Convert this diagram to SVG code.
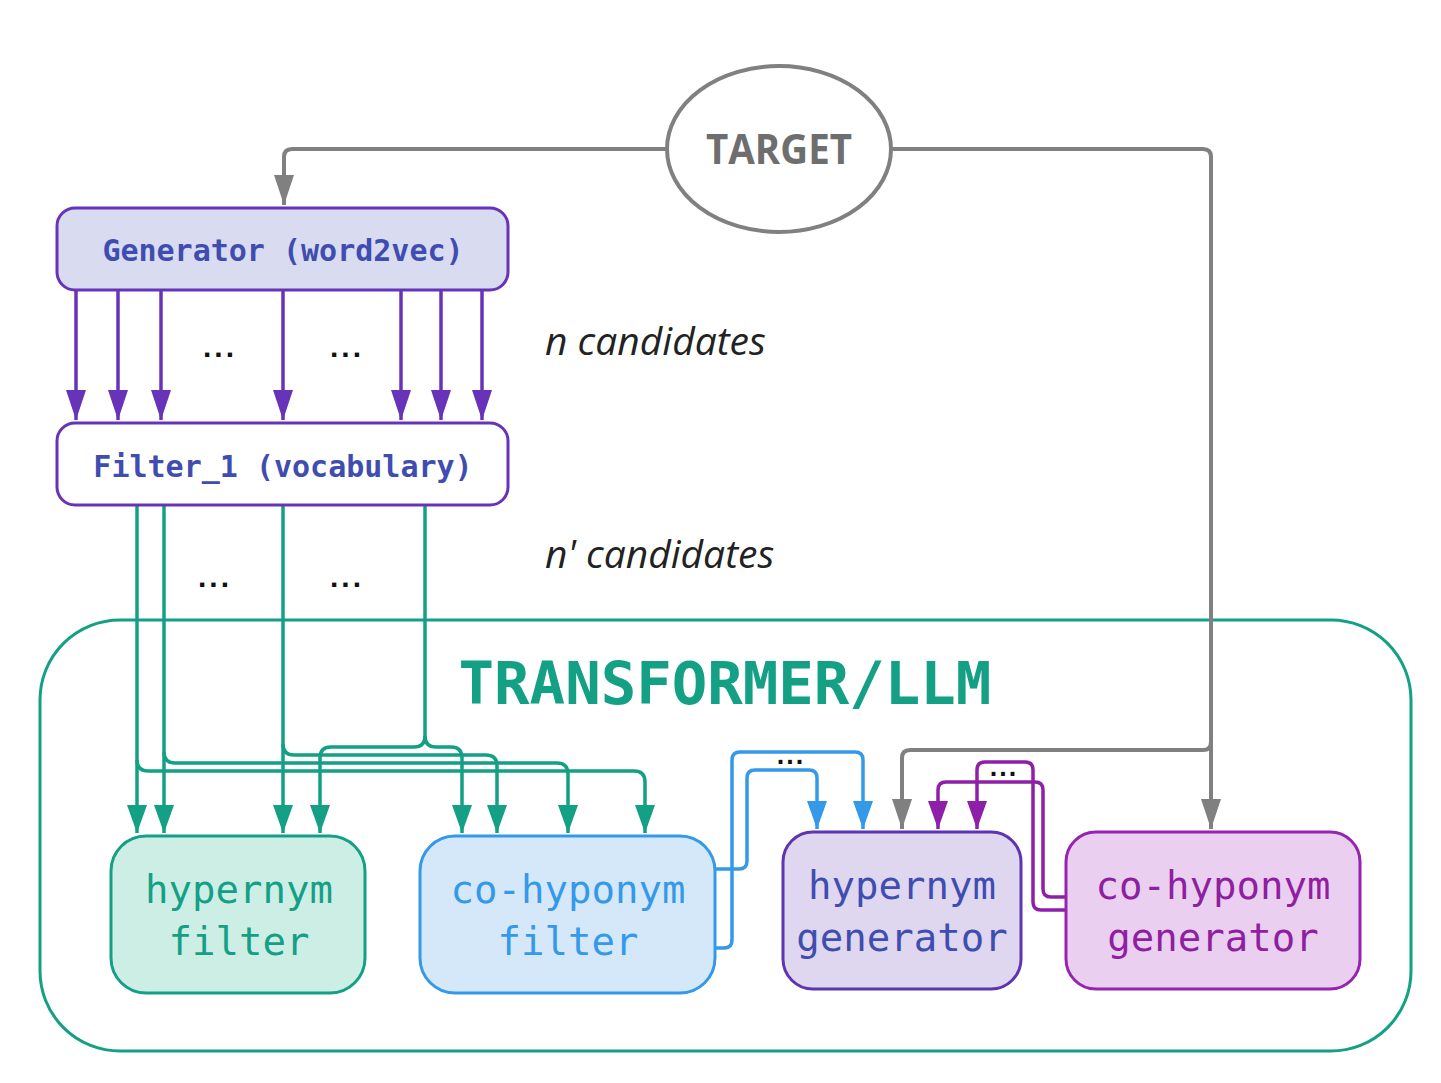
<svg xmlns="http://www.w3.org/2000/svg" width="1441" height="1083" viewBox="0 0 1441 1083">
<style>
.mono{font-family:"DejaVu Sans Mono","Liberation Mono",monospace}
.lbl{font-size:39px;text-anchor:middle}
.hdr{font-size:30px;font-weight:bold;text-anchor:middle;fill:#3f4db0}
.dots{font-family:"Liberation Sans",sans-serif;font-size:30px;font-weight:bold;letter-spacing:3px;fill:#111;text-anchor:middle}
.sdots{font-family:"Liberation Sans",sans-serif;font-size:27px;font-weight:bold;letter-spacing:2px;fill:#111;text-anchor:middle}
.cand{font-family:"Open Sans",sans-serif;font-style:italic;font-size:39px;fill:#222}
.ln{fill:none;stroke-width:3.5}
.g{stroke:#13a085}
.b{stroke:#3499e8}
.p{stroke:#6633b9}
.m{stroke:#8e1fa8}
.gr{stroke:#808080;stroke-width:4}
</style>
<defs>
<marker id="ag" markerUnits="userSpaceOnUse" markerWidth="28" markerHeight="20" refX="28" refY="10" orient="auto"><path d="M0,0 L28,10 L0,20 Z" fill="#13a085"/></marker>
<marker id="ab" markerUnits="userSpaceOnUse" markerWidth="28" markerHeight="20" refX="28" refY="10" orient="auto"><path d="M0,0 L28,10 L0,20 Z" fill="#3499e8"/></marker>
<marker id="ap" markerUnits="userSpaceOnUse" markerWidth="30" markerHeight="20" refX="30" refY="10" orient="auto"><path d="M0,0 L30,10 L0,20 Z" fill="#6633b9"/></marker>
<marker id="am" markerUnits="userSpaceOnUse" markerWidth="28" markerHeight="20" refX="28" refY="10" orient="auto"><path d="M0,0 L28,10 L0,20 Z" fill="#8e1fa8"/></marker>
<marker id="agr" markerUnits="userSpaceOnUse" markerWidth="30" markerHeight="20" refX="30" refY="10" orient="auto"><path d="M0,0 L30,10 L0,20 Z" fill="#808080"/></marker>
</defs>
<rect width="1441" height="1083" fill="#ffffff"/>

<g id="container">
<rect x="40" y="620" width="1371" height="431" rx="80" fill="none" stroke="#13a085" stroke-width="3"/>
<text class="mono" x="725" y="704" font-size="59" font-weight="bold" fill="#13a085" text-anchor="middle">TRANSFORMER/LLM</text>
</g>

<g id="connectors">
<path class="ln gr" d="M667,149 H292 Q284,149 284,157 V205" marker-end="url(#agr)"/>
<path class="ln gr" d="M891,149 H1203 Q1211,149 1211,157 V829" marker-end="url(#agr)"/>
<path class="ln gr" d="M1211,742 Q1211,750 1203,750 H910 Q902,750 902,758 V829" marker-end="url(#agr)"/>
<path class="ln p" d="M76,290 V420" marker-end="url(#ap)"/>
<path class="ln p" d="M118,290 V420" marker-end="url(#ap)"/>
<path class="ln p" d="M161,290 V420" marker-end="url(#ap)"/>
<path class="ln p" d="M283,290 V420" marker-end="url(#ap)"/>
<path class="ln p" d="M401,290 V420" marker-end="url(#ap)"/>
<path class="ln p" d="M441,290 V420" marker-end="url(#ap)"/>
<path class="ln p" d="M482,290 V420" marker-end="url(#ap)"/>
<path class="ln g" d="M137,505 V833" marker-end="url(#ag)"/>
<path class="ln g" d="M164,505 V833" marker-end="url(#ag)"/>
<path class="ln g" d="M283,505 V833" marker-end="url(#ag)"/>
<path class="ln g" d="M137,760 Q137,771 148,771 H634 Q645,771 645,782 V833" marker-end="url(#ag)"/>
<path class="ln g" d="M164,752 Q164,763 175,763 H557 Q568,763 568,774 V833" marker-end="url(#ag)"/>
<path class="ln g" d="M283,744 Q283,755 294,755 H486 Q497,755 497,766 V833" marker-end="url(#ag)"/>
<path class="ln g" d="M425,505 V736 Q425,747 414,747 H331 Q320,747 320,758 V833" marker-end="url(#ag)"/>
<path class="ln g" d="M425,736 Q425,747 436,747 H451 Q462,747 462,758 V833" marker-end="url(#ag)"/>
<path class="ln b" d="M715,869 H739 Q747,869 747,861 V778 Q747,770 755,770 H809 Q817,770 817,778 V829" marker-end="url(#ab)"/>
<path class="ln b" d="M715,948 H724 Q732,948 732,940 V760 Q732,752 740,752 H855 Q863,752 863,760 V829" marker-end="url(#ab)"/>
<path class="ln m" d="M1066,897 H1051 Q1043,897 1043,889 V790 Q1043,782 1035,782 H946 Q938,782 938,790 V829" marker-end="url(#am)"/>
<path class="ln m" d="M1066,910 H1041 Q1033,910 1033,902 V770 Q1033,762 1025,762 H985 Q977,762 977,770 V829" marker-end="url(#am)"/>
</g>

<g id="labels">
<text class="dots" x="220" y="357">...</text>
<text class="dots" x="347" y="357">...</text>
<text class="dots" x="215" y="587">...</text>
<text class="dots" x="347" y="587">...</text>
<text class="sdots" x="791" y="764">...</text>
<text class="sdots" x="1004" y="776">...</text>
<text class="cand" x="545" y="355">n candidates</text>
<text class="cand" x="545" y="568">n' candidates</text>
</g>

<g id="target">
<ellipse cx="779" cy="149" rx="112" ry="83" fill="#ffffff" stroke="#808080" stroke-width="4"/>
<text x="779" y="164" font-family="Open Sans,sans-serif" font-weight="bold" font-size="41" fill="#6e6e6e" text-anchor="middle" textLength="146" lengthAdjust="spacingAndGlyphs">TARGET</text>
</g>

<g id="generator">
<rect x="57" y="208" width="451" height="82" rx="18" fill="#d9dbf1" stroke="#6633b9" stroke-width="3"/>
<text class="mono hdr" x="283" y="261">Generator (word2vec)</text>
</g>

<g id="filter1">
<rect x="57" y="423" width="451" height="82" rx="18" fill="#ffffff" stroke="#6633b9" stroke-width="3"/>
<text class="mono hdr" x="283" y="477">Filter_1 (vocabulary)</text>
</g>

<g id="hypernym-filter">
<rect x="111" y="836" width="254" height="157" rx="35" fill="#cdeee5" stroke="#13a085" stroke-width="3"/>
<text class="mono lbl" x="239" y="903" fill="#13a085">hypernym</text>
<text class="mono lbl" x="239" y="955" fill="#13a085">filter</text>
</g>

<g id="cohyponym-filter">
<rect x="420" y="836" width="295" height="157" rx="35" fill="#d4e8f9" stroke="#3499e8" stroke-width="3"/>
<text class="mono lbl" x="568" y="903" fill="#3499e8">co-hyponym</text>
<text class="mono lbl" x="568" y="955" fill="#3499e8">filter</text>
</g>

<g id="hypernym-generator">
<rect x="783" y="832" width="238" height="157" rx="30" fill="#dfd6ef" stroke="#5e35b1" stroke-width="3"/>
<text class="mono lbl" x="902" y="899" fill="#3f4db0">hypernym</text>
<text class="mono lbl" x="902" y="951" fill="#3f4db0">generator</text>
</g>

<g id="cohyponym-generator">
<rect x="1066" y="832" width="294" height="157" rx="30" fill="#eacff0" stroke="#9624b0" stroke-width="3"/>
<text class="mono lbl" x="1213" y="899" fill="#8e1fa0">co-hyponym</text>
<text class="mono lbl" x="1213" y="951" fill="#8e1fa0">generator</text>
</g>
</svg>
